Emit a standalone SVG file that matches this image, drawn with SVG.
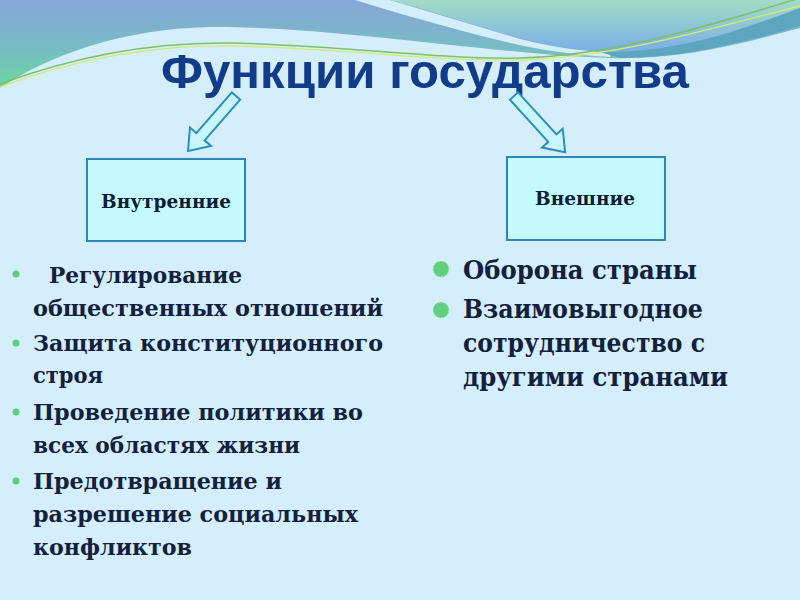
<svg xmlns="http://www.w3.org/2000/svg" width="800" height="600" viewBox="0 0 800 600">
  <defs>
    <linearGradient id="gA" gradientUnits="userSpaceOnUse" x1="0" y1="0" x2="0" y2="90">
      <stop offset="0" stop-color="#87a6d8"/>
      <stop offset="0.55" stop-color="#78bcc4"/>
      <stop offset="1" stop-color="#6cd89c"/>
    </linearGradient>
    <linearGradient id="gB" gradientUnits="userSpaceOnUse" x1="0" y1="0" x2="0" y2="52">
      <stop offset="0" stop-color="#a2dcc6"/>
      <stop offset="1" stop-color="#7aaee8"/>
    </linearGradient>
    <style>
      .box { fill: #c4fafd; stroke: #2f86b8; stroke-width: 2; }
      .arrow { fill: #c8f6fc; stroke: #2a8fbf; stroke-width: 2; stroke-linejoin: miter; }
      .boxt { font-family: "DejaVu Serif", "Liberation Serif", serif; font-weight: bold; font-size: 19px; fill: #0f1c36; text-anchor: middle; }
      .lt { font-family: "DejaVu Serif", "Liberation Serif", serif; font-weight: bold; font-size: 23px; fill: #13213f; }
      .rt { font-family: "DejaVu Serif", "Liberation Serif", serif; font-weight: bold; font-size: 26px; fill: #13213f; }
      .dot { fill: #5ccf7f; }
      .bdot { fill: #5fcf80; stroke: #b6ecc4; stroke-width: 1; stroke-dasharray: 2 1.5; }
    </style>
  </defs>

  <!-- background -->
  <rect width="800" height="600" fill="#d5eefc"/>
  <path d="M0,0 H800 V28 C740,44 680,60 610,58 C500,55 330,26 210,27 C120,29 50,55 0,88 Z" fill="url(#gA)"/>
  <path d="M355,0 H390 C430,12 470,24 510,36 C540,45 570,50 610,53 L610,57 C565,54 530,48 498,40 C450,28 400,14 355,0 Z" fill="#d5eefc"/>
  <path d="M390,0 H800 V8 C740,32 680,50 625,51 C575,52 540,44 505,34 C465,22 430,11 390,0 Z" fill="url(#gB)"/>
  <path d="M600,52 C680,53 740,30 800,8 V26 C740,44 680,58 620,58 Z" fill="#5ea6c0"/>
  <path d="M0,84 C70,58 150,42 230,43 C340,45 440,60 520,58 C620,55 720,22 800,-2" fill="none" stroke="#7cc26a" stroke-width="1.5"/>
  <path d="M0,87 C70,61 150,45 230,46 C340,48 440,62 520,60 C620,57 720,26 800,6" fill="none" stroke="#d6e878" stroke-width="1.3"/>

  <!-- title -->
  <text x="161" y="88" font-family="Liberation Sans, Arial, sans-serif" font-weight="bold" font-size="49" fill="#123c8a" textLength="528" lengthAdjust="spacingAndGlyphs">Функции государства</text>

  <!-- connectors -->
  <g id="connectors">
    <polygon class="arrow" transform="translate(236,96) rotate(131.1)" points="0,-5.5 54,-5.5 54,-14 73,0 54,14 54,5.5 0,5.5"/>
    <polygon class="arrow" transform="translate(514,96) rotate(47.7)" points="0,-5.5 57,-5.5 57,-14 76,0 57,14 57,5.5 0,5.5"/>
  </g>

  <g id="node-internal">
    <rect class="box" x="87" y="159" width="158" height="82"/>
    <text class="boxt" x="166" y="208" textLength="130" lengthAdjust="spacingAndGlyphs">Внутренние</text>
  </g>

  <g id="node-external">
    <rect class="box" x="507" y="157" width="158" height="83"/>
    <text class="boxt" x="585" y="205" textLength="100" lengthAdjust="spacingAndGlyphs">Внешние</text>
  </g>

  <g id="list-internal">
    <circle class="dot" cx="16" cy="274" r="3.5"/>
    <circle class="dot" cx="16" cy="343" r="3.5"/>
    <circle class="dot" cx="16" cy="412" r="3.5"/>
    <circle class="dot" cx="16" cy="481" r="3.5"/>
    <text class="lt" x="49" y="283" textLength="193" lengthAdjust="spacingAndGlyphs">Регулирование</text>
    <text class="lt" x="33" y="316" textLength="350" lengthAdjust="spacingAndGlyphs">общественных отношений</text>
    <text class="lt" x="33" y="351" textLength="350" lengthAdjust="spacingAndGlyphs">Защита конституционного</text>
    <text class="lt" x="33" y="383" textLength="70" lengthAdjust="spacingAndGlyphs">строя</text>
    <text class="lt" x="33" y="420" textLength="330" lengthAdjust="spacingAndGlyphs">Проведение политики во</text>
    <text class="lt" x="33" y="453" textLength="267" lengthAdjust="spacingAndGlyphs">всех областях жизни</text>
    <text class="lt" x="33" y="489" textLength="249" lengthAdjust="spacingAndGlyphs">Предотвращение и</text>
    <text class="lt" x="33" y="522" textLength="325" lengthAdjust="spacingAndGlyphs">разрешение социальных</text>
    <text class="lt" x="33" y="555" textLength="159" lengthAdjust="spacingAndGlyphs">конфликтов</text>
  </g>

  <g id="list-external">
    <circle class="bdot" cx="441" cy="269" r="8"/>
    <circle class="bdot" cx="441" cy="310" r="8"/>
    <text class="rt" x="463" y="279" textLength="234" lengthAdjust="spacingAndGlyphs">Оборона страны</text>
    <text class="rt" x="463" y="318" textLength="240" lengthAdjust="spacingAndGlyphs">Взаимовыгодное</text>
    <text class="rt" x="463" y="352" textLength="242" lengthAdjust="spacingAndGlyphs">сотрудничество с</text>
    <text class="rt" x="463" y="386" textLength="265" lengthAdjust="spacingAndGlyphs">другими странами</text>
  </g>
</svg>
